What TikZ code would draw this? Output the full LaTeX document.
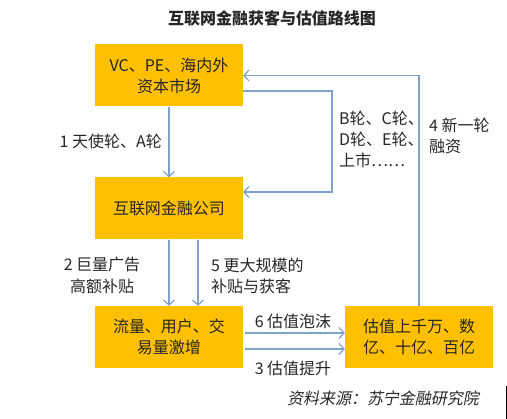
\documentclass[tikz,border=0pt]{standalone}
\usepackage{fontspec}
\setmainfont{Noto Sans CJK SC}
\newfontfamily\cjkslant[FakeSlant=0.2]{Noto Sans CJK SC}
\usetikzlibrary{arrows.meta}
\definecolor{boxfill}{HTML}{FFC000}
\definecolor{arrowblue}{HTML}{7DA0CC}
\definecolor{txt}{HTML}{262626}
\tikzset{
  box/.style={fill=boxfill, draw=none, minimum width=148pt, minimum height=62pt, inner sep=2pt, align=center, text=txt, font=\fontsize{16}{21}\selectfont},
  lbl/.style={text=txt, font=\fontsize{16}{21}\selectfont, inner sep=1pt},
  arr/.style={draw=arrowblue, line width=1.2pt, -{Straight Barb[length=5pt,width=11pt,line width=1.2pt]}},
}
\begin{document}
\begin{tikzpicture}[x=1pt,y=-1pt]
\useasboundingbox (0,0) rectangle (507,419);
\node[lbl, font=\fontsize{16}{20}\selectfont\bfseries] (title) at (272,18) {互联网金融获客与估值路线图};
\node[box] (A) at (169,75.5) {VC、PE、海内外\\资本市场};
\node[box] (B) at (169,208.5) {互联网金融公司};
\node[box] (C) at (169,337) {流量、用户、交\\易量激增};
\node[box] (D) at (419,337) {估值上千万、数\\亿、十亿、百亿};
\draw[arr] (A.south) -- (B.north);
\coordinate (r1) at (332,91);
\coordinate (r2) at (332,192);
\draw[arr] (A.east |- r1) -- (r1) -- (r2) -- (B.east |- r2);
\draw[arr] (D.north) |- (A.east);
\coordinate (b2) at (198,0);
\draw[arr] (B.south) -- (C.north);
\draw[arr] (B.south -| b2) -- (C.north -| b2);
\coordinate (h1) at (0,333);
\coordinate (h2) at (0,349);
\draw[arr] ([xshift=2pt]C.east |- h1) -- (D.west |- h1);
\draw[arr] ([xshift=2pt]C.east |- h2) -- (D.west |- h2);
\node[lbl, anchor=east] (l1) at (163,141) {1 天使轮、A轮};
\node[lbl, anchor=north west, align=left, font=\fontsize{16}{21}\selectfont] (l2) at (338,110) {B轮、C轮、\\D轮、E轮、\\上市……};
\node[lbl, anchor=north west, align=left, font=\fontsize{16}{21}\selectfont] (l4) at (428,117) {4 新一轮\\融资};
\node[lbl, align=center, font=\fontsize{16}{22}\selectfont] (l3) at (102,275) {2 巨量广告\\高额补贴};
\node[lbl, anchor=west, align=left, font=\fontsize{16}{21}\selectfont] (l5) at (210,276) {5 更大规模的\\补贴与获客};
\node[lbl] (l6) at (293,321) {6 估值泡沫};
\node[lbl] (l7) at (293,368) {3 估值提升};
\node[lbl, font=\fontsize{16}{20}\selectfont\cjkslant] (src) at (383,398) {资料来源：苏宁金融研究院};
\draw[black, line width=0.8pt] (506,386) -- (506,419);
\end{tikzpicture}
\end{document}
